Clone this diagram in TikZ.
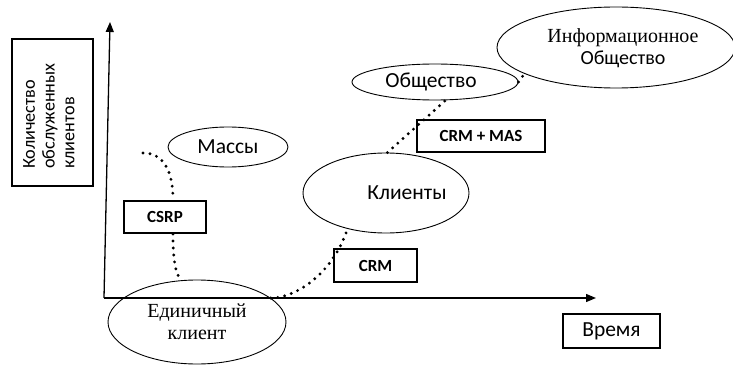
\documentclass[tikz,border=0pt]{standalone}
\usepackage{fontspec}
\setmainfont{Liberation Serif}
\newfontfamily\carl{Carlito}
\usetikzlibrary{shapes.geometric,arrows.meta,calc}
\begin{document}
\begin{tikzpicture}[x=1pt,y=-1pt,
  ell/.style={draw,ellipse,line width=0.9pt,inner sep=0pt,align=center},
  serif20/.style={font=\fontsize{20}{22}\selectfont},
  sans20/.style={font=\carl\fontsize{21.5}{23}\selectfont},
  tagbox/.style={draw,line width=2pt,inner sep=0pt,font=\carl\bfseries\fontsize{17}{19}\selectfont},
  dotline/.style={line width=3.2pt,line cap=round,dash pattern=on 0pt off 7pt},
  axis/.style={line width=1.3pt,-{Triangle[length=10pt,width=8pt]}}]
\useasboundingbox (0,0) rectangle (733,366);

% axes
\coordinate (o) at (104,298);
\coordinate (yt) at (110,22);
\coordinate (xt) at (596,298);
\draw[axis] (o) -- (yt);
\draw[axis] (o) -- (xt);

% axis labels
\node[draw,line width=1.4pt,minimum width=81pt,minimum height=147pt,inner sep=0pt] (lbl) at (52.5,112.5) {};
\node[rotate=90,anchor=north west,align=left,inner sep=0pt,font=\carl\fontsize{18.2}{19.8}\selectfont] (lbltxt) at (23,169) {Количество\\обслуженных\\клиентов};
\node[draw,line width=1.3pt,minimum width=97pt,minimum height=34pt,inner sep=0pt,sans20] (vr) at (611.5,331) {Время};

% ellipses
\node[ell,minimum width=178pt,minimum height=84pt,serif20] (ed) at (197,322) {Единичный\\клиент};
\node[ell,minimum width=120pt,minimum height=40pt,sans20] (mas) at (228,147) {Массы};
\node[ell,minimum width=166pt,minimum height=80pt] (kl) at (386,193) {};
\node[sans20] (kltext) at (407,193) {Клиенты};
\node[ell,minimum width=166pt,minimum height=36pt] (obsh) at (435,82) {};
\node[sans20] (obshtext) at (431,82) {Общество};
\node[ell,minimum width=238pt,minimum height=81pt] (info) at (616,47.5) {};
\node[serif20,align=center] (infotext) at (623,48) {Информационное\\{\carl Общество}};

% tag boxes
\node[tagbox,minimum width=82pt,minimum height=32pt] (csrp) at (165,217) {CSRP};
\node[tagbox,minimum width=83pt,minimum height=33pt] (crm) at (375.5,265.5) {CRM};
\node[tagbox,minimum width=128pt,minimum height=32pt] (crmmas) at (481,136) {CRM + MAS};

% dotted paths
\coordinate (cs0) at (143,153);
\draw[dotline] (cs0) .. controls (163,153) and (173,170) .. ($(csrp.north)+(8,0)$);
\draw[dotline] ($(csrp.south)+(8,0)$) .. controls (173,262) and (176,276) .. (ed.110);
\draw[dotline] (ed.18) .. controls (295,298) and (332,275) .. (kl.223);
\draw[dotline] (kl.88) -- (obsh.-60);
\draw[dotline] (obsh.east) -- (info.196);
\end{tikzpicture}
\end{document}
